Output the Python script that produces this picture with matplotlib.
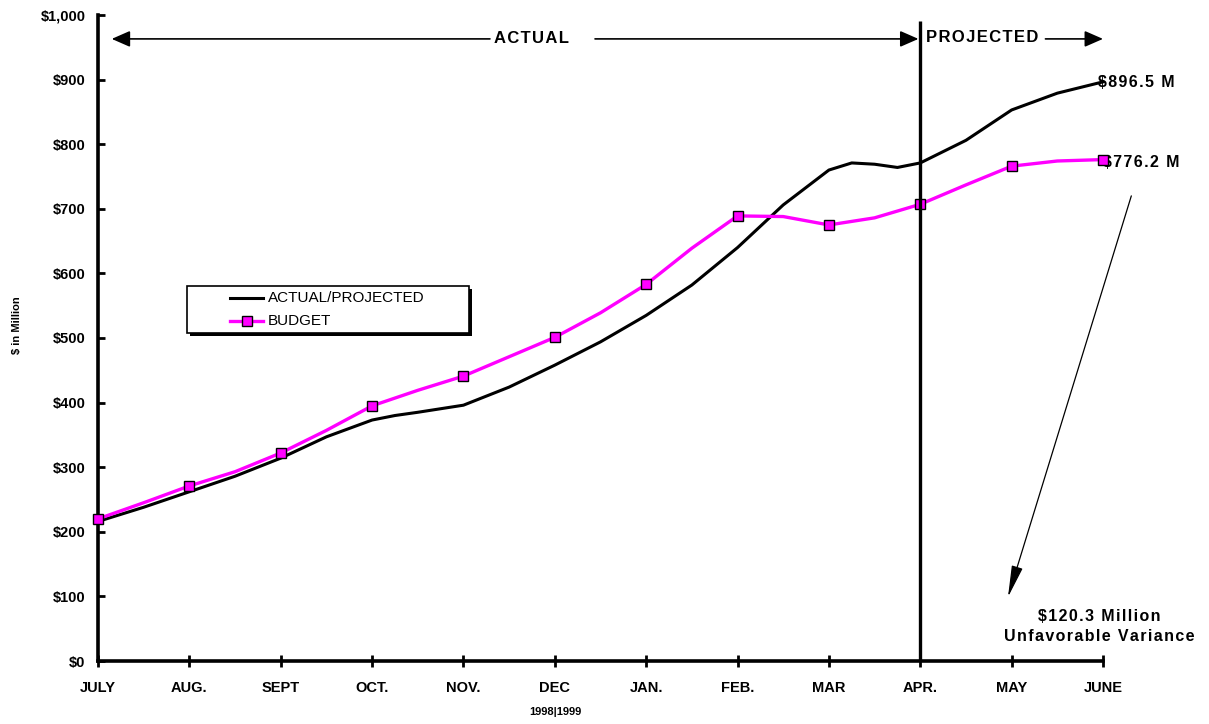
import numpy as np
import matplotlib
matplotlib.use('Agg')
import matplotlib.pyplot as plt
from matplotlib.patches import Rectangle
from matplotlib.lines import Line2D

plt.rcParams['font.family'] = ['Liberation Sans', 'DejaVu Sans']

# data ($ million, cumulative)
months = ['JULY', 'AUG.', 'SEPT', 'OCT.', 'NOV.', 'DEC', 'JAN.', 'FEB.', 'MAR', 'APR.', 'MAY', 'JUNE']
actual_t = [0, 0.5, 1, 1.5, 2, 2.5, 3, 3.25, 3.5, 4, 4.5, 5, 5.5, 6, 6.5, 7, 7.5, 8,
            8.25, 8.5, 8.75, 9, 9.5, 10, 10.5, 11]
actual_v = [216, 238, 262, 286, 314, 347, 373, 380, 385, 396, 424, 458, 494, 535, 582, 640,
            706, 760, 771, 769, 764, 771, 806, 853, 879, 896.5]
budget_t = [0, 0.5, 1, 1.5, 2, 2.5, 3, 3.5, 4, 4.5, 5, 5.5, 6, 6.5, 7, 7.5, 8, 8.5, 9,
            9.5, 10, 10.5, 11]
budget_v = [220, 245, 271, 293, 322, 357, 395, 419, 441, 471, 501, 539, 583, 639, 689, 688,
            675, 686, 707, 737, 766, 774, 776.2]
budget_months = [220, 271, 322, 395, 441, 501, 583, 689, 675, 707, 766, 776.2]
yticks = [0, 100, 200, 300, 400, 500, 600, 700, 800, 900, 1000]
ytick_labels = ['$0', '$100', '$200', '$300', '$400', '$500', '$600', '$700', '$800', '$900', '$1,000']


def spaced(s):
    # the original uses letter-spaced bold text, hair spaces between letters
    return '\u200a'.join(s)


fig = plt.figure(figsize=(12.09, 7.24), dpi=100)
ax = fig.add_axes([98 / 1209, 1 - 661 / 724, 1005 / 1209, 646 / 724])

ax.plot(actual_t, actual_v, color='black', lw=2.2, clip_on=False, zorder=3)
ax.plot(budget_t, budget_v, color='#ff00ff', lw=2.4, clip_on=False, zorder=4)
ax.plot(range(len(months)), budget_months, ls='none', marker='s', ms=6.5,
        mfc='#ff00ff', mec='black', mew=1, clip_on=False, zorder=5)

# APR. divider between actual and projected
ax.vlines(9, 0, 990, color='black', lw=2.4, zorder=6, clip_on=False)

ax.set_xlim(0, 11)
ax.set_ylim(0, 1000)
ax.set_xticks(range(len(months)))
ax.set_xticklabels(months, fontsize=10.5, fontweight='bold')
ax.set_yticks(yticks)
ax.set_yticklabels(ytick_labels, fontsize=10.5, fontweight='bold')
ax.tick_params(axis='x', direction='inout', length=9, width=2, pad=10)
ax.tick_params(axis='y', direction='in', length=5, width=2, pad=9)
for s in ['top', 'right']:
    ax.spines[s].set_visible(False)
for s in ['left', 'bottom']:
    ax.spines[s].set_linewidth(2.6)

# ACTUAL / PROJECTED arrows
arr = dict(arrowstyle='-|>,head_length=0.8,head_width=0.35', color='black', lw=1.2,
           mutation_scale=14, shrinkA=0, shrinkB=0)
ax.annotate('', xy=(0.15, 963), xytext=(4.29, 963), arrowprops=arr, annotation_clip=False)
ax.annotate('', xy=(8.98, 963), xytext=(5.44, 963), arrowprops=arr, annotation_clip=False)
ax.annotate('', xy=(11.0, 963), xytext=(10.37, 963), arrowprops=arr, annotation_clip=False)
ax.text(4.74, 963, spaced('ACTUAL'), ha='center', va='center', fontsize=12, fontweight='bold')
ax.text(9.68, 965, spaced('PROJECTED'), ha='center', va='center', fontsize=12, fontweight='bold')

# end labels
ax.text(10.95, 895, spaced('$896.5 M'), ha='left', va='center', fontsize=11.5, fontweight='bold')
ax.text(11.0, 772, spaced('$776.2 M'), ha='left', va='center', fontsize=11.5, fontweight='bold')

# variance arrow and note
ax.annotate('', xy=(9.96, 99), xytext=(11.31, 720),
            arrowprops=dict(arrowstyle='-|>,head_length=1.4,head_width=0.25', color='black',
                            lw=0.9, mutation_scale=14, shrinkA=0, shrinkB=0),
            annotation_clip=False)
ax.text(10.96, 53, spaced('$120.3 Million') + '\n' + spaced('Unfavorable Variance'),
        ha='center', va='center', fontsize=11.5, fontweight='bold', linespacing=1.45)

# legend box with black shadow
tr = ax.transAxes
ax.add_patch(Rectangle((0.0916, 0.5031), 0.2806, 0.0728, transform=tr, facecolor='black',
                       edgecolor='black', lw=0, clip_on=False, zorder=7))
ax.add_patch(Rectangle((0.0886, 0.5077), 0.2806, 0.0728, transform=tr, facecolor='white',
                       edgecolor='black', lw=1.2, clip_on=False, zorder=8))
ax.add_line(Line2D([0.1313, 0.1642], [0.5619, 0.5619], transform=tr, color='black', lw=2.2,
                   clip_on=False, zorder=9))
ax.add_line(Line2D([0.1313, 0.1642], [0.5263, 0.5263], transform=tr, color='#ff00ff', lw=2.4,
                   clip_on=False, zorder=9))
ax.add_line(Line2D([0.1478], [0.5263], transform=tr, marker='s', ms=6.5, mfc='#ff00ff',
                   mec='black', mew=1, clip_on=False, zorder=10))
ax.text(0.169, 0.5619, 'ACTUAL/PROJECTED', transform=tr, ha='left', va='center',
        fontsize=11, zorder=10)
ax.text(0.169, 0.5263, 'BUDGET', transform=tr, ha='left', va='center', fontsize=11, zorder=10)

fig.text(17 / 1209, 1 - 325 / 724, '$ in Million', rotation=90, ha='center', va='center',
         fontsize=8, fontweight='bold')
fig.text(555 / 1209, 1 - 712 / 724, '1998|1999', ha='center', va='center',
         fontsize=8, fontweight='bold')

fig.savefig('out.png', dpi=100)
